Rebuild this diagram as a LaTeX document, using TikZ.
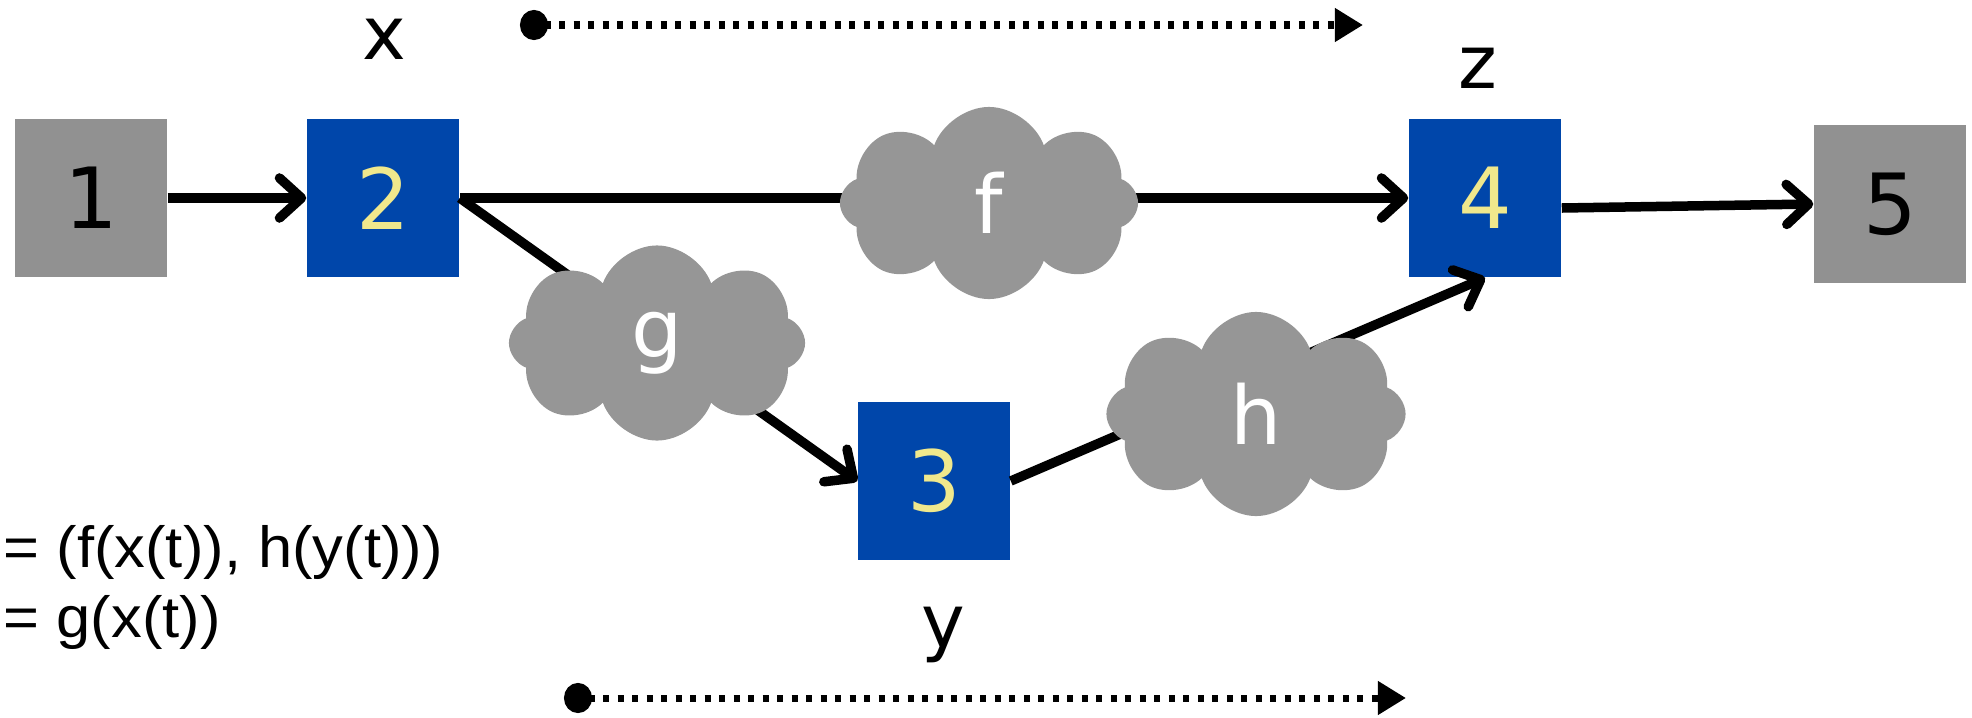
\documentclass[tikz,border=0pt]{standalone}
\usepackage{fontspec}
\setmainfont{DejaVu Sans}
\newfontfamily\eqfont[FakeStretch=1.06]{Liberation Sans}
\usetikzlibrary{arrows.meta,shapes.symbols}
\definecolor{boxblue}{RGB}{0,70,170}
\definecolor{boxgray}{RGB}{145,145,145}
\definecolor{cloudgray}{RGB}{150,150,150}
\definecolor{digityellow}{RGB}{240,232,140}
\begin{document}
\begin{tikzpicture}[x=0.01cm,y=-0.01cm,
 box/.style={rectangle, minimum width=1.52cm, minimum height=1.58cm, inner sep=0pt, font=\fontsize{24}{28}\selectfont},
 graybox/.style={box, fill=boxgray, text=black},
 bluebox/.style={box, fill=boxblue, text=digityellow},
 puff/.style={cloud, cloud puffs=8, cloud puff arc=140, cloud ignores aspect, fill=cloudgray, text=white, inner sep=0pt, font=\fontsize{23}{27}\selectfont},
 varlabel/.style={anchor=base, inner sep=0pt, font=\fontsize{21}{25}\selectfont},
 flow/.style={line width=0.095cm, -{Straight Barb[length=0.22cm,width=0.4cm,round]}},
 timeline/.style={line width=0.07cm, dash pattern=on 0.06cm off 0.085cm, {Circle[length=0.28cm,width=0.3cm]}-{Triangle[length=0.28cm,width=0.32cm]}},
 eq/.style={anchor=base west, inner sep=0pt, font=\eqfont\fontsize{16.5}{19}\selectfont}]
\useasboundingbox (0,0) rectangle (1972,718);
% boxes
\node[graybox] (n1) at (91,198) {1};
\node[bluebox] (n2) at (383,198) {2};
\node[bluebox] (n3) at (934,481) {3};
\node[bluebox] (n4) at (1485,198) {4};
\node[graybox] (n5) at (1890,204) {5};
% variable labels
\node[varlabel] (lx) at (384,60) {x};
\node[varlabel] (lz) at (1478,88) {z};
\node[varlabel] (ly) at (943,647) {y};
% connectors
\draw[flow] (n1.east) -- (n2.west);
\draw[flow] (n2.east) -- (n4.west);
\draw[flow] (n2.east) -- (n3.west);
\draw[flow] (n3.east) -- (n4.south);
\draw[flow] ([yshift=-0.1cm]n4.east) -- (n5.west);
% clouds on top of the lines
\node[puff, minimum width=2.98cm, minimum height=1.92cm] (f) at (989,203) {f};
\node[puff, minimum width=2.96cm, minimum height=1.95cm] (g) at (657,343) {g};
\node[puff, minimum width=2.99cm, minimum height=2.04cm] (h) at (1256,414) {h};
% time lines
\coordinate (xs) at (520,25);
\coordinate (xe) at (1363,25);
\coordinate (ys) at (564,698);
\coordinate (ye) at (1406,698);
\draw[timeline] (xs) -- (xe);
\draw[timeline] (ys) -- (ye);
% equations
\node[eq] (e1) at (3,567) {= (f(x(t)), h(y(t)))};
\node[eq] (e2) at (3,637) {= g(x(t))};
\end{tikzpicture}
\end{document}
